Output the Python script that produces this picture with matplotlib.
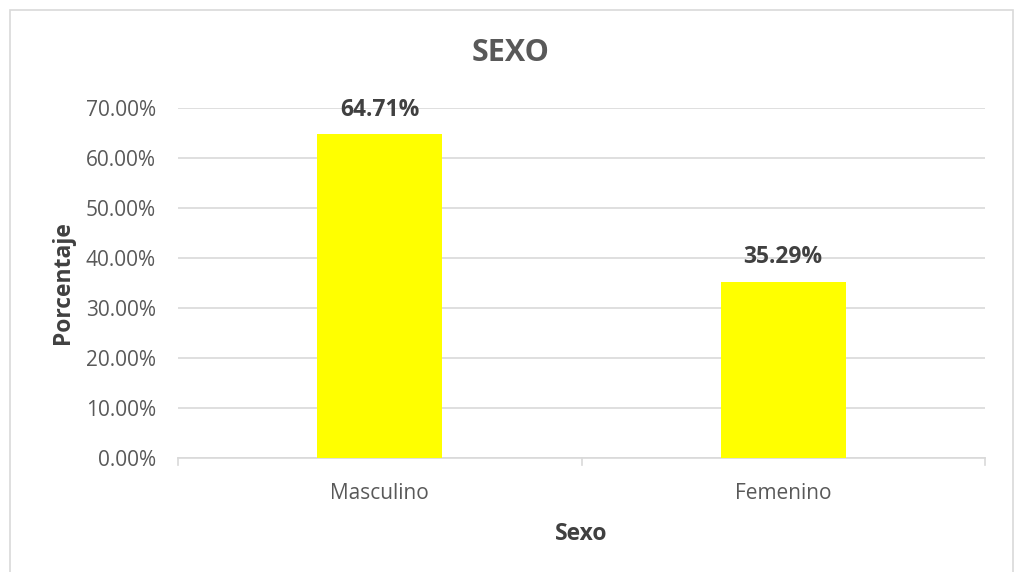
import matplotlib
matplotlib.use("Agg")
import matplotlib.pyplot as plt
from matplotlib.patches import Rectangle
from matplotlib.ticker import FuncFormatter

categorias = ["Masculino", "Femenino"]
porcentajes = [64.71, 35.29]
ticks_y = [0, 10, 20, 30, 40, 50, 60, 70]

plt.rcParams['font.family'] = ['Open Sans', 'DejaVu Sans']

fig = plt.figure(figsize=(10.14, 5.72), dpi=100)
ax = fig.add_axes([178/1014, 114/572, 807/1014, 350/572])

x = range(len(categorias))
ax.bar(x, porcentajes, width=0.31, color="#FFFF00", zorder=3)
for xi, v in zip(x, porcentajes):
    ax.text(xi, v + 2.5, f"{v:.2f}%", ha="center", va="bottom",
            fontsize=16.5, fontweight="bold", color="#404040")

ax.set_xlim(-0.5, 1.5)
ax.set_ylim(0, 70)
ax.set_yticks(ticks_y)
ax.yaxis.set_major_formatter(FuncFormatter(lambda v, p: f"{v:.2f}%"))
ax.set_xticks(list(x))
ax.set_xticklabels(categorias)
ax.tick_params(axis="y", length=0, labelsize=15, labelcolor="#595959", pad=16)
ax.tick_params(axis="x", length=0, labelsize=15, labelcolor="#595959", pad=18)
for b in [-0.5, 0.5, 1.5]:
    ax.plot([b, b], [0, -1.3], color="#D9D9D9", lw=1.2, clip_on=False, zorder=2)
ax.grid(axis="y", color="#D9D9D9", lw=1.2, zorder=0)
for s in ["top", "right", "left"]:
    ax.spines[s].set_visible(False)
ax.spines["bottom"].set_color("#D9D9D9")
ax.spines["bottom"].set_linewidth(1.2)

ax.set_ylabel("Porcentaje", fontsize=16.5, fontweight="bold", color="#404040", labelpad=8)
ax.set_xlabel("Sexo", fontsize=16.5, fontweight="bold", color="#404040", labelpad=13)
fig.text(511/1014, 1 - 53/572, "SEXO", ha="center", va="center",
         fontsize=22, fontweight="bold", color="#595959")

fig.patches.append(Rectangle((10/1014, -0.1), 1003/1014, 1 - 10/572 + 0.1,
                             transform=fig.transFigure, fill=False,
                             edgecolor="#D9D9D9", lw=1.2))

fig.savefig("out.png", dpi=100)
